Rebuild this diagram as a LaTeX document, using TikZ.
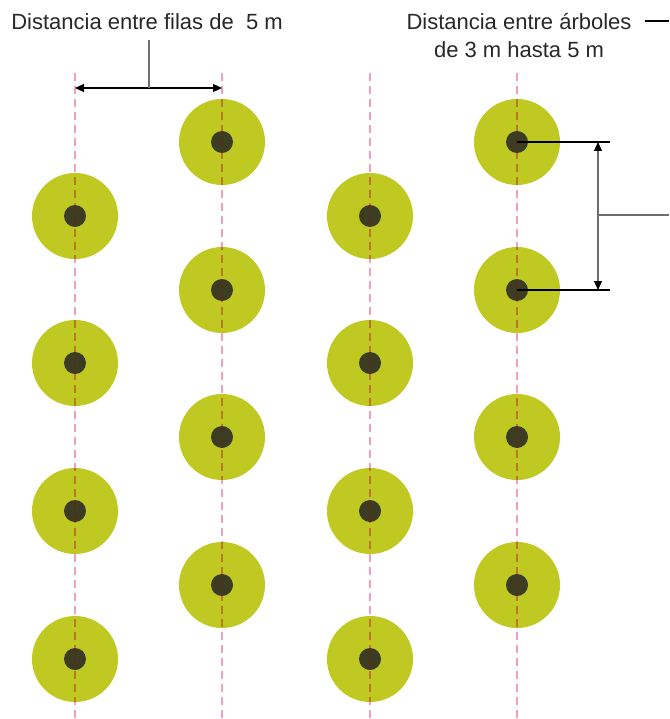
\documentclass[tikz,border=0pt]{standalone}
\usepackage{fontspec}
\setmainfont{Liberation Sans}
\usetikzlibrary{arrows.meta}
\definecolor{leaf}{RGB}{192,201,34}
\definecolor{trunk}{RGB}{60,60,34}
\definecolor{rowpink}{RGB}{240,160,190}
\definecolor{rowbrown}{RGB}{185,120,40}
\definecolor{rowdark}{RGB}{85,45,25}
\definecolor{txt}{RGB}{40,40,40}
\definecolor{dimgray}{RGB}{110,110,110}
\begin{document}
\begin{tikzpicture}[x=1pt,y=-1pt,
  crown/.style={circle,fill=leaf,minimum size=86pt,inner sep=0pt},
  trunkdot/.style={circle,fill=trunk,minimum size=22pt,inner sep=0pt},
  rowline/.style={dash pattern=on 8pt off 5pt,line width=1.4pt},
  dimline/.style={line width=1.1pt},
  tipa/.style={{Triangle[length=9pt,width=8pt,color=black]}-{Triangle[length=9pt,width=8pt,color=black]}},
  lbl/.style={text=txt,font=\fontsize{22}{28}\selectfont,inner sep=0pt,align=center}]
\useasboundingbox (0,0) rectangle (669,719);
% trees
\foreach \c/\x/\ys in {1/75/{216,363,511,659},2/222/{142,290,437,585},3/370/{216,363,511,659},4/517/{142,290,437,585}}{
  \coordinate (top\c) at (\x,73);
  \coordinate (bot\c) at (\x,719);
  \foreach \y [count=\r] in \ys {
    \node[crown] (t\c\r) at (\x,\y) {};
    \node[trunkdot] (k\c\r) at (\x,\y) {};
  }
}
% row lines
\foreach \c in {1,...,4}{\draw[rowline,rowpink] (top\c) -- (bot\c);}
\begin{scope}
  \clip \foreach \c/\x/\ys in {1/75/{216,363,511,659},2/222/{142,290,437,585},3/370/{216,363,511,659},4/517/{142,290,437,585}}{ \foreach \y in \ys {(\x,\y) circle (43pt)} };
  \foreach \c in {1,...,4}{\draw[rowline,rowbrown] (top\c) -- (bot\c);}
\end{scope}
\begin{scope}
  \clip \foreach \c/\x/\ys in {1/75/{216,363,511,659},2/222/{142,290,437,585},3/370/{216,363,511,659},4/517/{142,290,437,585}}{ \foreach \y in \ys {(\x,\y) circle (11pt)} };
  \foreach \c in {1,...,4}{\draw[rowline,rowdark] (top\c) -- (bot\c);}
\end{scope}
% row distance
\coordinate (d1) at (75,88);
\coordinate (d2) at (222,88);
\coordinate (dm) at (149,88);
\coordinate (du) at (149,40);
\draw[dimline,black,tipa] (d1) -- (d2);
\draw[dimline,dimgray] (dm) -- (du);
\node[lbl] (lab1) at (147,22) {Distancia entre filas de \ 5 m};
% tree distance
\node[lbl] (lab2) at (519,36) {Distancia entre árboles\\de 3 m hasta 5 m};
\coordinate (lt1) at (645,21);
\coordinate (lt2) at (669,21);
\draw[dimline,black] (lt1) -- (lt2);
\coordinate (e1) at (610,142);
\coordinate (e2) at (610,290);
\draw[dimline,black] (k41.center) -- (e1);
\draw[dimline,black] (k42.center) -- (e2);
\coordinate (v1) at (598,142);
\coordinate (v2) at (598,290);
\coordinate (vm) at (598,215);
\coordinate (vr) at (669,215);
\draw[dimline,dimgray,tipa] (v1) -- (v2);
\draw[dimline,dimgray] (vm) -- (vr);
\end{tikzpicture}
\end{document}
